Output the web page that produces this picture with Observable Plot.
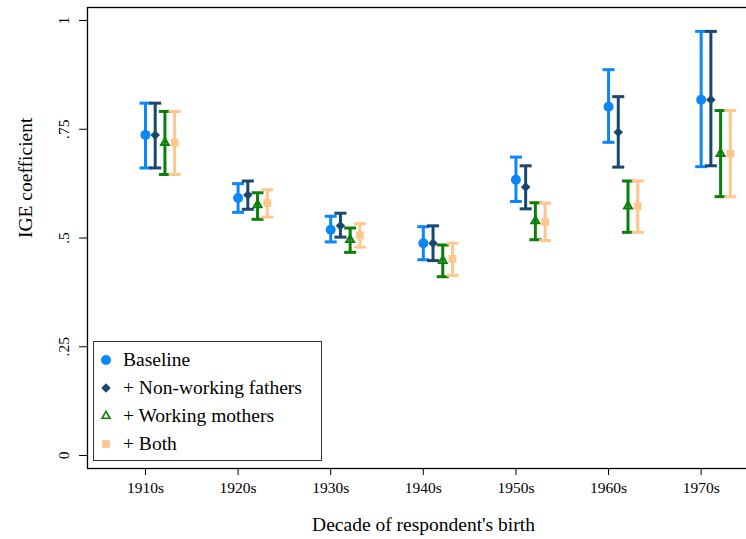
<!DOCTYPE html>
<html><head><meta charset="utf-8">
<script src="https://cdn.jsdelivr.net/npm/d3@7"></script>
<script src="https://cdn.jsdelivr.net/npm/@observablehq/plot@0.6"></script>
<style>
html,body{margin:0;padding:0;background:#fff;overflow:hidden;}
#wrap{position:relative;width:746px;height:539px;overflow:hidden;}
#wrap svg{max-width:none !important;}
#legend{position:absolute;left:93px;top:341px;width:229px;height:120px;border:1.3px solid #333;background:#fff;font-family:"Liberation Serif","Times New Roman","DejaVu Serif",serif;font-size:19.5px;color:#000;box-sizing:border-box;}
.item{position:absolute;left:0;height:28px;width:225px;}
.item svg{position:absolute;left:2px;top:4px;}
.item span{position:absolute;left:29px;top:2px;line-height:24px;white-space:nowrap;}
</style></head>
<body>
<div id="wrap"><div id="legend"></div></div>
<script>
const decades = ["1910s","1920s","1930s","1940s","1950s","1960s","1970s"];
const yTicks = [0, 0.25, 0.5, 0.75, 1];
const yTickLabels = ["0", ".25", ".5", ".75", "1"];
const seriesNames = ["Baseline", "+ Non-working fathers", "+ Working mothers", "+ Both"];

const baselineEst = [0.737, 0.592, 0.519, 0.488, 0.634, 0.802, 0.818];
const baselineLo  = [0.661, 0.559, 0.491, 0.450, 0.584, 0.720, 0.664];
const baselineHi  = [0.810, 0.625, 0.550, 0.526, 0.686, 0.887, 0.975];

const nonworkEst = [0.737, 0.599, 0.528, 0.488, 0.617, 0.743, 0.818];
const nonworkLo  = [0.661, 0.566, 0.502, 0.448, 0.567, 0.663, 0.666];
const nonworkHi  = [0.810, 0.631, 0.557, 0.528, 0.666, 0.825, 0.975];

const workmomEst = [0.719, 0.576, 0.496, 0.448, 0.539, 0.573, 0.694];
const workmomLo  = [0.646, 0.543, 0.467, 0.411, 0.496, 0.513, 0.595];
const workmomHi  = [0.791, 0.604, 0.523, 0.484, 0.581, 0.631, 0.793];

const bothEst = [0.719, 0.580, 0.506, 0.452, 0.537, 0.573, 0.694];
const bothLo  = [0.646, 0.548, 0.479, 0.414, 0.494, 0.513, 0.595];
const bothHi  = [0.791, 0.611, 0.533, 0.488, 0.580, 0.631, 0.793];

const colors = ["#0d86f8", "#1a476f", "#0a800a", "#ffc68d"];
const symbols = ["circle", "diamond2", "triangle2", "square"];
const symbolR = [5, 4.3, 3.8, 4.4];
const offsets = [0, 0.105, 0.21, 0.315];

const series = [
  {est: baselineEst, lo: baselineLo, hi: baselineHi},
  {est: nonworkEst, lo: nonworkLo, hi: nonworkHi},
  {est: workmomEst, lo: workmomLo, hi: workmomHi},
  {est: bothEst, lo: bothLo, hi: bothHi}
];

const cap = {draw(ctx) { ctx.moveTo(-6, 0); ctx.lineTo(6, 0); }};

const marks = [];
series.forEach((s, si) => {
  const rows = decades.map((d, i) => ({x: i + offsets[si], est: s.est[i], lo: s.lo[i], hi: s.hi[i]}));
  marks.push(Plot.ruleX(rows, {x: "x", y1: "lo", y2: "hi", stroke: colors[si], strokeWidth: 3}));
  marks.push(Plot.dot(rows, {x: "x", y: "lo", symbol: cap, fill: "none", stroke: colors[si], strokeWidth: 3}));
  marks.push(Plot.dot(rows, {x: "x", y: "hi", symbol: cap, fill: "none", stroke: colors[si], strokeWidth: 3}));
  if (symbols[si] === "triangle2") {
    marks.push(Plot.dot(rows, {x: "x", y: "est", symbol: "triangle2", r: symbolR[si], fill: "none", stroke: colors[si], strokeWidth: 2}));
  } else {
    marks.push(Plot.dot(rows, {x: "x", y: "est", symbol: symbols[si], r: symbolR[si], fill: colors[si], stroke: "none"}));
  }
});

const chart = Plot.plot({
  width: 759, height: 539,
  marginLeft: 87, marginRight: 0, marginTop: 7, marginBottom: 71,
  x: {domain: [-0.626, 6.63]},
  y: {domain: [-0.0299, 1.0299]},
  style: {fontFamily: "'Liberation Serif','Times New Roman','DejaVu Serif',serif", background: "white", color: "#000", maxWidth: "none"},
  marks: [
    ...marks,
    Plot.axisX({ticks: d3.range(decades.length), tickFormat: i => decades[i], tickSize: 7, tickPadding: 6, fontSize: 15.5, label: null}),
    Plot.axisY({ticks: yTicks, tickFormat: (d, i) => yTickLabels[i], tickSize: 8, tickPadding: 11, tickRotate: -90, fontSize: 15.5, label: null}),
    Plot.text(["Decade of respondent's birth"], {frameAnchor: "bottom", dy: 62, fontSize: 19.5}),
    Plot.text(["IGE coefficient"], {frameAnchor: "left", dx: -62, rotate: -90, fontSize: 19.5}),
    Plot.frame({stroke: "#000", strokeWidth: 1.3})
  ]
});
document.getElementById("wrap").prepend(chart);

const legend = document.getElementById("legend");
const rowTops = [4, 32, 60, 88];
seriesNames.forEach((name, si) => {
  const item = document.createElement("div");
  item.className = "item";
  item.style.top = rowTops[si] + "px";
  const sym = {circle: d3.symbolCircle, diamond2: d3.symbolDiamond2, triangle2: d3.symbolTriangle2, square: d3.symbolSquare}[symbols[si]];
  const size = Math.PI * symbolR[si] * symbolR[si];
  const path = d3.symbol(sym, size)();
  const hollow = symbols[si] === "triangle2";
  item.innerHTML = `<svg width="20" height="20" viewBox="-10 -10 20 20"><path d="${path}" fill="${hollow ? "none" : colors[si]}" stroke="${hollow ? colors[si] : "none"}" stroke-width="1.6"/></svg><span>${name}</span>`;
  legend.appendChild(item);
});
</script>
</body></html>
